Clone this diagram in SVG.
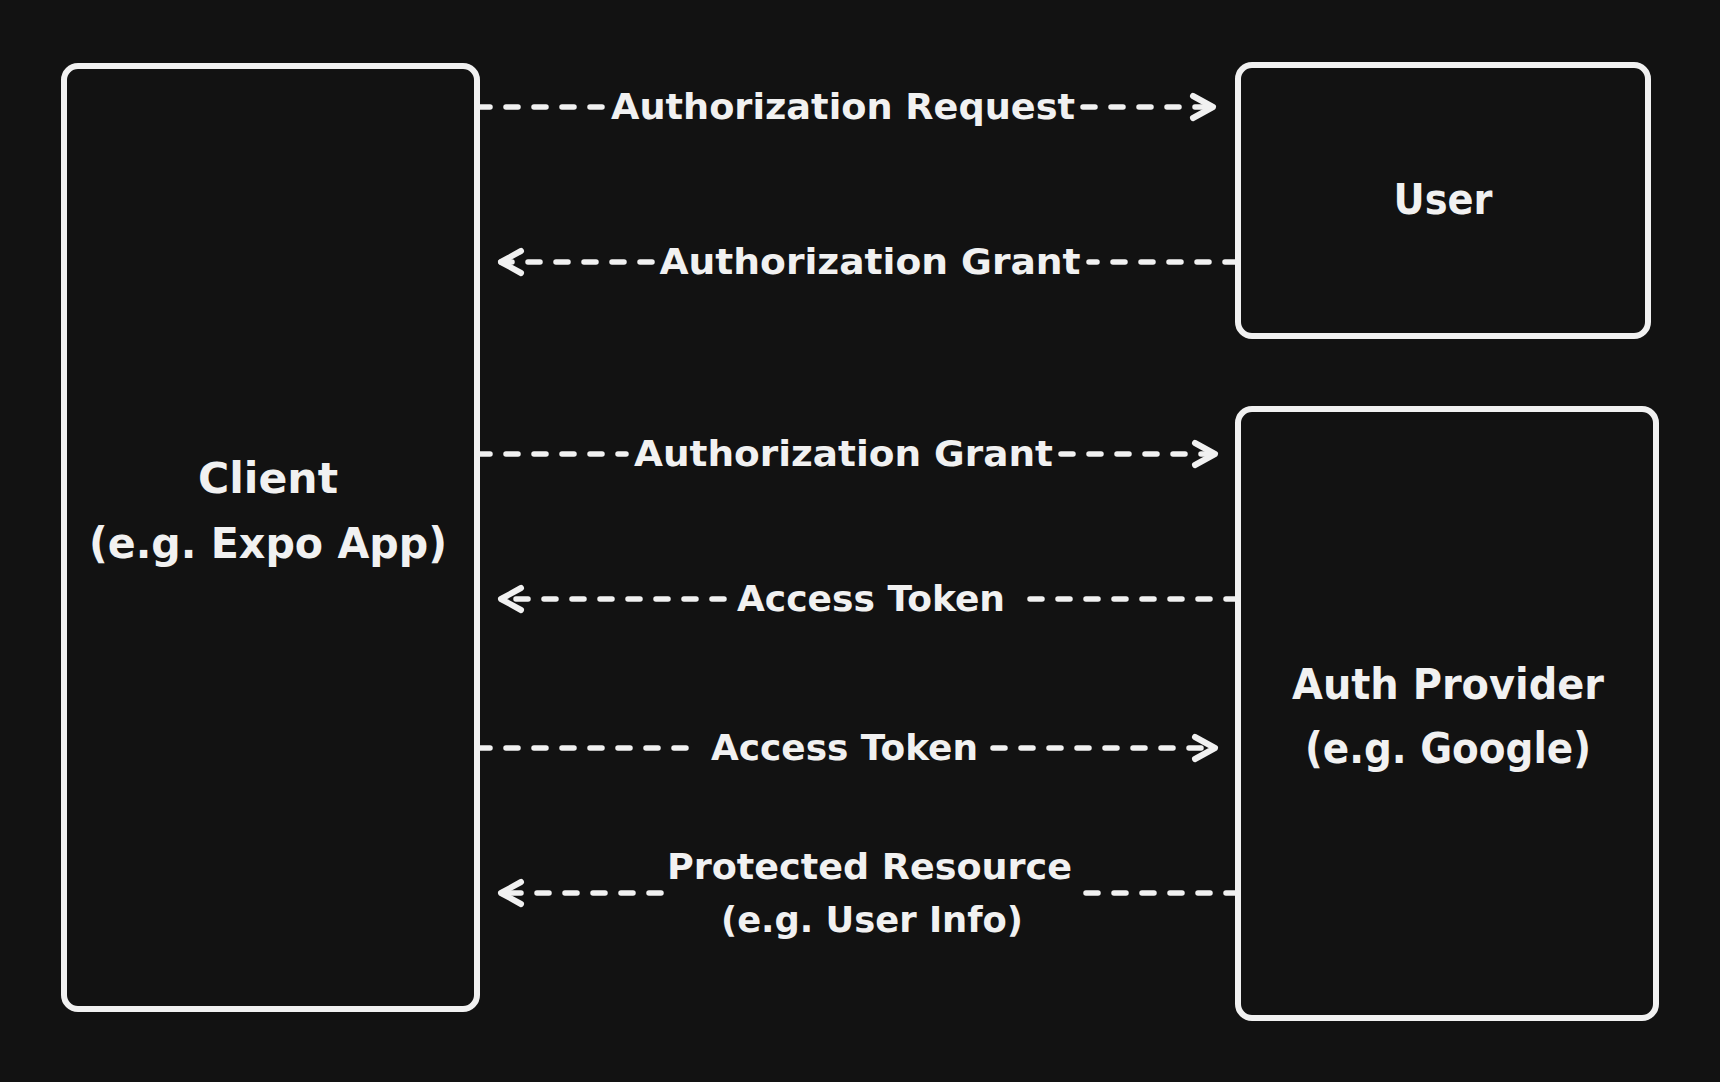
<svg xmlns="http://www.w3.org/2000/svg" width="1720" height="1082" viewBox="0 0 1720 1082">
<style>
.bg{fill:#121212}
.box{fill:#121212;stroke:#f1f1f1;stroke-width:6}
.node{font-family:"DejaVu Sans","Liberation Sans",sans-serif;font-weight:bold;font-size:42px;fill:#f1f1f1;text-anchor:middle}
.lbl{font-family:"DejaVu Sans","Liberation Sans",sans-serif;font-weight:bold;font-size:35px;fill:#f1f1f1;text-anchor:middle}
.dash{fill:none;stroke:#f1f1f1;stroke-width:5.5;stroke-linecap:round;stroke-dasharray:12 16}
.head{fill:none;stroke:#f1f1f1;stroke-width:6;stroke-linecap:round;stroke-linejoin:round}
</style>
<rect class="bg" x="0" y="0" width="1720" height="1082"/>
<g id="client">
<rect class="box" x="64" y="66" width="413" height="943" rx="14"/>
<text class="node" x="268" y="493" textLength="140" lengthAdjust="spacingAndGlyphs">Client</text>
<text class="node" x="268" y="558" textLength="358" lengthAdjust="spacingAndGlyphs">(e.g. Expo App)</text>
</g>
<g id="user">
<rect class="box" x="1238" y="65" width="410" height="271" rx="14"/>
<text class="node" x="1443" y="214" textLength="99" lengthAdjust="spacingAndGlyphs">User</text>
</g>
<g id="auth-provider">
<rect class="box" x="1238" y="409" width="418" height="609" rx="14"/>
<text class="node" x="1448" y="699" textLength="312" lengthAdjust="spacingAndGlyphs">Auth Provider</text>
<text class="node" x="1448" y="763" textLength="286" lengthAdjust="spacingAndGlyphs">(e.g. Google)</text>
</g>
<g id="connectors">
<g id="c1">
<path class="dash" d="M478 107 H603"/>
<path class="dash" d="M1083 107 H1213"/>
<path class="head" d="M1193 96 L1213 107 L1193 118"/>
<text class="lbl" x="843" y="119" textLength="464" lengthAdjust="spacingAndGlyphs">Authorization Request</text>
</g>
<g id="c2">
<path class="dash" d="M1237 262 H1089"/>
<path class="dash" d="M652 262 H501"/>
<path class="head" d="M521 251 L501 262 L521 273"/>
<text class="lbl" x="870" y="274" textLength="421" lengthAdjust="spacingAndGlyphs">Authorization Grant</text>
</g>
<g id="c3">
<path class="dash" d="M478 454 H626"/>
<path class="dash" d="M1061 454 H1215"/>
<path class="head" d="M1195 443 L1215 454 L1195 465"/>
<text class="lbl" x="843.5" y="466" textLength="419" lengthAdjust="spacingAndGlyphs">Authorization Grant</text>
</g>
<g id="c4">
<path class="dash" d="M1238 599 H1018"/>
<path class="dash" d="M724 599 H501"/>
<path class="head" d="M521 588 L501 599 L521 610"/>
<text class="lbl" x="871" y="611" textLength="268" lengthAdjust="spacingAndGlyphs">Access Token</text>
</g>
<g id="c5">
<path class="dash" d="M478 748 H698"/>
<path class="dash" d="M993 748 H1215"/>
<path class="head" d="M1195 737 L1215 748 L1195 759"/>
<text class="lbl" x="844.5" y="760" textLength="267" lengthAdjust="spacingAndGlyphs">Access Token</text>
</g>
<g id="c6">
<path class="dash" d="M1238 893 H1083"/>
<path class="dash" d="M661 893 H501"/>
<path class="head" d="M521 882 L501 893 L521 904"/>
<text class="lbl" x="869.5" y="879" textLength="405" lengthAdjust="spacingAndGlyphs">Protected Resource</text>
<text class="lbl" x="872" y="932" textLength="302" lengthAdjust="spacingAndGlyphs">(e.g. User Info)</text>
</g>
</g>
</svg>
